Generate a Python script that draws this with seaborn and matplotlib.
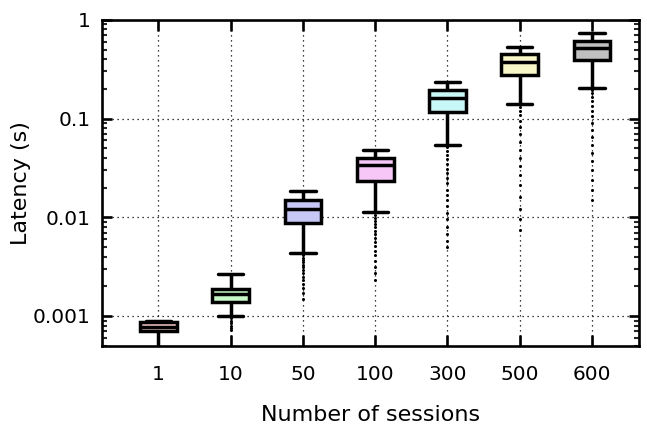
import numpy as np
import pandas as pd
import seaborn as sns
import matplotlib.pyplot as plt
from matplotlib.ticker import FixedLocator, LogLocator, NullFormatter

# Box statistics (seconds)
sessions = ['1', '10', '50', '100', '300', '500', '600']
whisker_low = [0.0004, 0.00100, 0.00437, 0.0113, 0.0539, 0.140, 0.206]
q1 = [0.000705, 0.00140, 0.00877, 0.0235, 0.116, 0.276, 0.389]
median = [0.00078, 0.00166, 0.0120, 0.0335, 0.163, 0.374, 0.514]
q3 = [0.00086, 0.00189, 0.0149, 0.0398, 0.195, 0.451, 0.609]
whisker_high = [0.00088, 0.00268, 0.0183, 0.0475, 0.233, 0.526, 0.729]

# Outliers below the lower whiskers (dotted tails)
outliers = [
    [],
    [0.00095, 0.0009, 0.00085, 0.0008, 0.00076, 0.00072],
    [0.0041, 0.0039, 0.0037, 0.0035, 0.0033, 0.0031, 0.0029, 0.0027, 0.0025,
     0.0023, 0.0021, 0.0019, 0.0017, 0.0015],
    [0.0106, 0.0099, 0.0092, 0.0085, 0.0079, 0.0073, 0.0067, 0.0061, 0.0056,
     0.0051, 0.0046, 0.0041, 0.0036, 0.0031, 0.0027, 0.0023],
    [0.051, 0.047, 0.043, 0.039, 0.035, 0.031, 0.028, 0.025, 0.022, 0.019,
     0.017, 0.015, 0.013, 0.011, 0.0095, 0.008, 0.0068, 0.0058, 0.005],
    [0.132, 0.12, 0.108, 0.095, 0.082, 0.07, 0.058, 0.048, 0.04, 0.033,
     0.027, 0.021, 0.016, 0.012, 0.0095, 0.0075],
    [0.195, 0.18, 0.165, 0.15, 0.135, 0.12, 0.105, 0.09, 0.077, 0.065,
     0.054, 0.045, 0.037, 0.03, 0.024, 0.019, 0.015],
]

colors = ['#ffc0c0', '#c0ffc0', '#c0c0ff', '#ffc0ff', '#c0ffff', '#ffffc0', '#c0c0c0']

sns.set_style('ticks')
plt.rcParams['font.family'] = ['DejaVu Sans']

rows = []
for i, s in enumerate(sessions):
    for v in (whisker_low[i], q1[i], median[i], q3[i], whisker_high[i]):
        rows.append((s, v))
box_df = pd.DataFrame(rows, columns=['sessions', 'latency'])
out_df = pd.DataFrame([(s, v) for s, vals in zip(sessions, outliers) for v in vals],
                      columns=['sessions', 'latency'])

fig = plt.figure(figsize=(6.47, 4.3), dpi=100)
ax = fig.add_axes([0.1577, 0.196, 0.8299, 0.758])
ax.set_yscale('log')

sns.boxplot(data=box_df, x='sessions', y='latency', order=sessions,
            hue='sessions', hue_order=sessions, palette=colors, legend=False,
            whis=(0, 100), width=0.51, linewidth=2.5, linecolor='black',
            showfliers=False, capwidths=0.35, ax=ax)
sns.stripplot(data=out_df, x='sessions', y='latency', order=sessions,
              jitter=False, color='black', size=2.2, linewidth=0, ax=ax)

ax.set_xlim(-0.78, 6.65)
ax.set_ylim(0.0005, 1)
ax.yaxis.set_major_locator(FixedLocator([0.001, 0.01, 0.1, 1]))
ax.set_yticklabels(['0.001', '0.01', '0.1', '1'])
ax.yaxis.set_minor_locator(LogLocator(base=10, subs=np.arange(2, 10)))
ax.yaxis.set_minor_formatter(NullFormatter())

ax.set_axisbelow(True)
ax.grid(True, which='major', color='black', linestyle=(0, (1, 3)), linewidth=0.9)

for sp in ax.spines.values():
    sp.set_linewidth(1.9)
    sp.set_color('black')

ax.tick_params(axis='both', which='major', direction='in', width=1.9, length=7,
               top=True, right=True, labelsize=14.5, colors='black')
ax.tick_params(axis='x', which='major', length=8, pad=14)
ax.tick_params(axis='y', which='minor', direction='in', width=1.5, length=3.5,
               left=True, right=True)
ax.tick_params(axis='y', which='major', pad=8)

ax.set_xlabel('Number of sessions', fontsize=16, labelpad=15, color='black')
ax.set_ylabel('Latency (s)', fontsize=16, color='black')
ax.yaxis.set_label_coords(-0.132, 0.5)

fig.savefig('out.png', dpi=100)
